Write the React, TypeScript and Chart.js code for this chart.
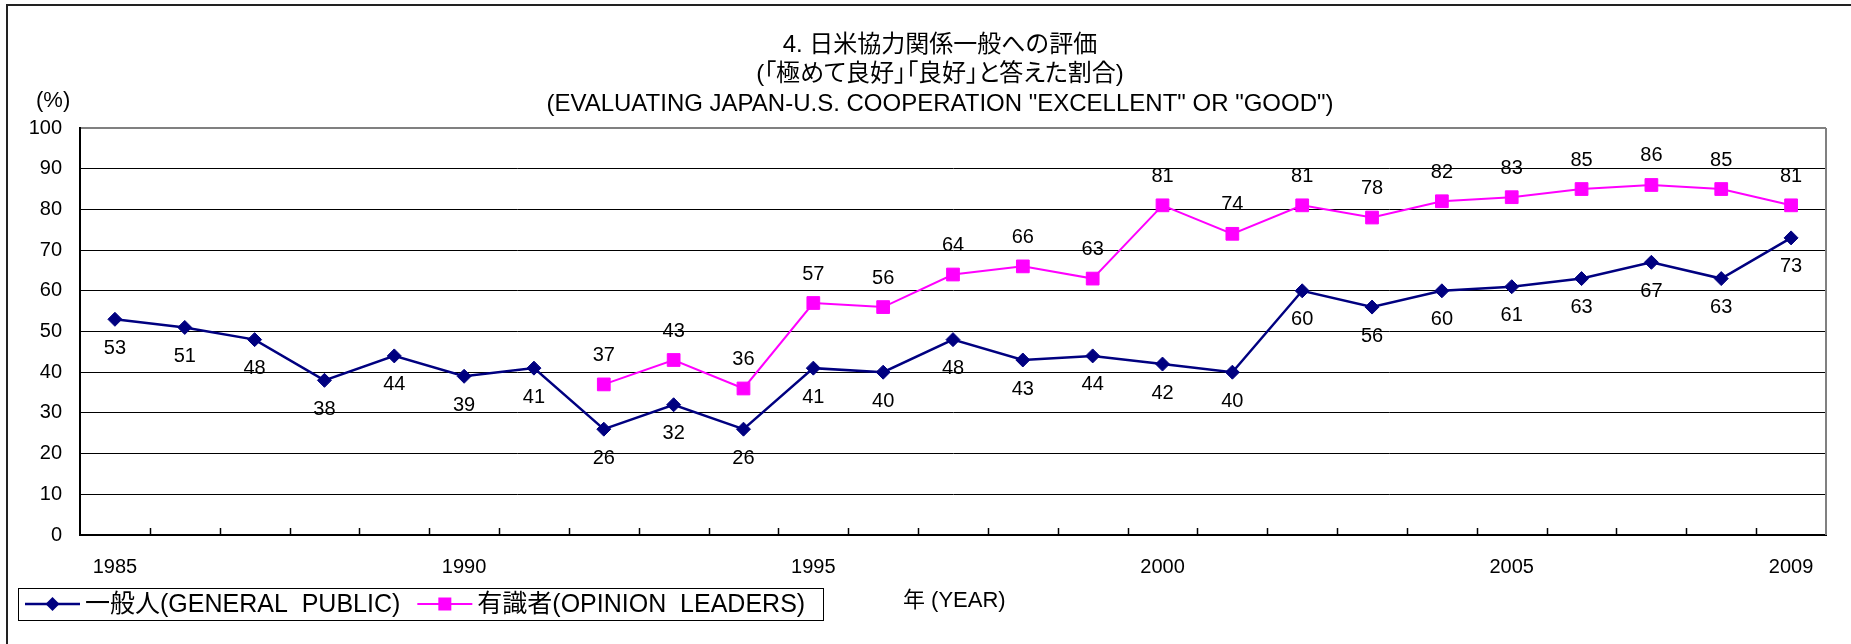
import React, { useEffect, useRef } from 'react';
import { Chart, registerables } from 'chart.js';

Chart.register(...registerables);

const years = ['1985', '1986', '1987', '1988', '1989', '1990', '1991', '1992', '1993', '1994', '1995', '1996', '1997', '1998', '1999', '2000', '2001', '2002', '2003', '2004', '2005', '2006', '2007', '2008', '2009'];
const generalPublic = [53, 51, 48, 38, 44, 39, 41, 26, 32, 26, 41, 40, 48, 43, 44, 42, 40, 60, 56, 60, 61, 63, 67, 63, 73];
const opinionLeaders = [null, null, null, null, null, null, null, 37, 43, 36, 57, 56, 64, 66, 63, 81, 74, 81, 78, 82, 83, 85, 86, 85, 81];
const shownYearLabels = ['1985', '1990', '1995', '2000', '2005', '2009'];
const seriesNames = ['一般人(GENERAL  PUBLIC)', '有識者(OPINION  LEADERS)'];
const seriesColors = ['#000080', '#FF00FF'];
const titleLines = [
  '4. 日米協力関係一般への評価',
  '(「極めて良好」「良好」と答えた割合)',
  '(EVALUATING JAPAN-U.S. COOPERATION "EXCELLENT" OR "GOOD")',
];
const yUnitLabel = '(%)';
const xAxisTitle = '年 (YEAR)';

const FONT = '"Liberation Sans", "Noto Sans CJK JP", sans-serif';

const decorPlugin = {
  id: 'decor',
  beforeDatasetsDraw(chart: any) {
    const { ctx, chartArea } = chart;
    const x = chart.scales.x;
    ctx.save();
    // right plot border (gray)
    ctx.strokeStyle = '#808080';
    ctx.lineWidth = 2;
    ctx.beginPath();
    ctx.moveTo(chartArea.right, chartArea.top);
    ctx.lineTo(chartArea.right, chartArea.bottom);
    ctx.stroke();
    // inside tick marks at category boundaries
    ctx.strokeStyle = '#000';
    ctx.lineWidth = 1.5;
    for (let i = 1; i < years.length; i++) {
      const px = Math.round((x.getPixelForValue(i - 1) + x.getPixelForValue(i)) / 2) + 0.5;
      ctx.beginPath();
      ctx.moveTo(px, chartArea.bottom);
      ctx.lineTo(px, chartArea.bottom - 7);
      ctx.stroke();
    }
    ctx.restore();
  },
  afterDatasetsDraw(chart: any) {
    const { ctx } = chart;
    ctx.save();
    ctx.font = `20px ${FONT}`;
    ctx.fillStyle = '#000';
    ctx.textAlign = 'center';
    ctx.textBaseline = 'middle';
    chart.data.datasets.forEach((ds: any, di: number) => {
      const meta = chart.getDatasetMeta(di);
      meta.data.forEach((el: any, i: number) => {
        const v = ds.data[i];
        if (v === null || v === undefined) return;
        const off = di === 0 ? 29 : -29;
        ctx.fillText(String(v), el.x, el.y + off);
      });
    });
    ctx.restore();
  },
  afterDraw(chart: any) {
    const { ctx } = chart;
    ctx.save();
    // legend box
    const boxL = 18, boxT = 588, boxR = 823, boxB = 620;
    const cy = (boxT + boxB) / 2;
    ctx.strokeStyle = '#000';
    ctx.lineWidth = 1;
    ctx.strokeRect(boxL + 0.5, boxT + 0.5, boxR - boxL, boxB - boxT);
    ctx.font = `25px ${FONT}`;
    ctx.textBaseline = 'middle';
    ctx.textAlign = 'left';
    let x0 = 25;
    seriesNames.forEach((name, i) => {
      const col = seriesColors[i];
      ctx.strokeStyle = col;
      ctx.fillStyle = col;
      ctx.lineWidth = i === 0 ? 2.5 : 2;
      ctx.beginPath();
      ctx.moveTo(x0, cy);
      ctx.lineTo(x0 + 55, cy);
      ctx.stroke();
      const mx = x0 + 27.5;
      ctx.beginPath();
      if (i === 0) {
        ctx.moveTo(mx, cy - 7);
        ctx.lineTo(mx + 7, cy);
        ctx.lineTo(mx, cy + 7);
        ctx.lineTo(mx - 7, cy);
        ctx.closePath();
      } else {
        ctx.rect(mx - 6.5, cy - 6.5, 13, 13);
      }
      ctx.fill();
      ctx.fillStyle = '#000';
      const tx = x0 + 60;
      ctx.fillText(name, tx, cy + 1);
      x0 = tx + ctx.measureText(name).width + 17;
    });
    ctx.restore();
  },
};

export default function App() {
  const ref = useRef<HTMLCanvasElement>(null);

  useEffect(() => {
    if (!ref.current) return;
    const chart = new Chart(ref.current, {
      type: 'line',
      data: {
        labels: years,
        datasets: [
          {
            label: seriesNames[0],
            data: generalPublic,
            borderColor: seriesColors[0],
            backgroundColor: seriesColors[0],
            borderWidth: 2.5,
            pointStyle: 'rectRot',
            pointRadius: 7,
            pointBorderWidth: 1,
            tension: 0,
          },
          {
            label: seriesNames[1],
            data: opinionLeaders,
            borderColor: seriesColors[1],
            backgroundColor: seriesColors[1],
            borderWidth: 2,
            pointStyle: 'rect',
            pointRadius: 9,
            pointBorderWidth: 1,
            tension: 0,
            spanGaps: false,
          },
        ],
      },
      options: {
        responsive: false,
        animation: false,
        events: [],
        layout: { padding: { top: 128, right: 25, left: 0, bottom: 0 } },
        plugins: {
          legend: { display: false },
          title: { display: false },
          tooltip: { enabled: false },
        },
        scales: {
          x: {
            type: 'category',
            offset: true,
            afterFit(scale: any) {
              scale.height = 109;
            },
            grid: { drawOnChartArea: false, drawTicks: false },
            border: { color: '#000', width: 2 },
            ticks: {
              autoSkip: false,
              maxRotation: 0,
              padding: 20,
              color: '#000',
              font: { size: 20, family: FONT },
              callback: (_v: any, idx: number) => (shownYearLabels.includes(years[idx]) ? years[idx] : ''),
            },
          },
          y: {
            min: 0,
            max: 100,
            afterFit(scale: any) {
              scale.width = 80;
            },
            grid: {
              drawTicks: false,
              color: (c: any) => (c.tick && c.tick.value === 100 ? '#808080' : '#000'),
              lineWidth: (c: any) => (c.tick && c.tick.value === 100 ? 2 : 1),
            },
            border: { color: '#000', width: 2 },
            ticks: {
              stepSize: 10,
              padding: 18,
              color: '#000',
              font: { size: 20, family: FONT },
            },
          },
        },
      },
      plugins: [decorPlugin],
    });
    return () => chart.destroy();
  }, []);

  const textBase: React.CSSProperties = {
    position: 'absolute',
    fontFamily: FONT,
    color: '#000',
    whiteSpace: 'pre',
  };

  return (
    <div style={{ position: 'fixed', left: 0, top: 0, width: 1851, height: 644, background: '#fff', overflow: 'hidden' }}>
      <div style={{ position: 'absolute', left: 6, top: 4, width: 1900, height: 700, border: '2px solid #222' }} />
      <canvas ref={ref} width={1851} height={644} style={{ position: 'absolute', left: 0, top: 0, width: 1851, height: 644 }} />
      {titleLines.map((t, i) => (
        <div
          key={i}
          style={{
            ...textBase,
            left: 0,
            width: 1880,
            textAlign: 'center',
            top: [30, 59, 89][i],
            height: 28,
            lineHeight: '28px',
            fontSize: 24,
            fontFeatureSettings: i === 1 ? '"palt"' : 'normal',
          }}
        >
          {t}
        </div>
      ))}
      <div style={{ ...textBase, left: 36, top: 88, lineHeight: '24px', fontSize: 22 }}>{yUnitLabel}</div>
      <div style={{ ...textBase, left: 903, top: 588, lineHeight: '24px', fontSize: 22 }}>{xAxisTitle}</div>
    </div>
  );
}
